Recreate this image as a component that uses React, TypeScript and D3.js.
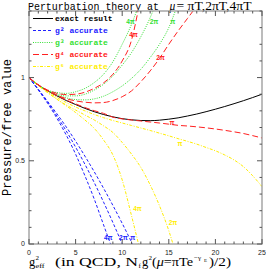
import React from 'react';
import * as d3 from 'd3';

type P = [number, number];

const exact: P[] = [[0,1],[0.5,0.975],[1,0.955],[2,0.92],[3,0.89],[4,0.862],[5,0.838],[6,0.815],[7,0.795],[8,0.778],[9,0.764],[10,0.753],[11,0.746],[12,0.742],[13,0.741],[14,0.744],[15,0.75],[16,0.758],[17,0.769],[18,0.781],[19,0.795],[20,0.81],[21,0.826],[22,0.843],[23,0.861],[24,0.88],[25,0.9]];

const g2_4pi: P[] = [[0,1],[1,0.925],[2,0.845],[3,0.755],[4,0.654],[5,0.54],[6,0.41],[7,0.27],[8,0.115],[8.75,0]];
const g2_2pi: P[] = [[0,1],[1,0.927],[2,0.85],[3,0.768],[4,0.679],[5,0.582],[6,0.479],[7,0.369],[8,0.252],[9,0.129],[10,0]];
const g2_pi: P[] = [[0,1],[1,0.93],[2,0.857],[3,0.782],[4,0.703],[5,0.618],[6,0.528],[7,0.434],[8,0.335],[9,0.232],[10,0.124],[11.1,0]];

const g3_4pi: P[] = [[0,1],[1,0.955],[2,0.925],[3,0.91],[4,0.905],[5,0.915],[6,0.935],[7,0.97],[8,1.02],[9,1.095],[10,1.2],[11,1.32],[11.55,1.4]];
const g3_2pi: P[] = [[0,1],[1,0.955],[2,0.922],[3,0.9],[4,0.89],[5,0.89],[6,0.9],[7,0.925],[8,0.96],[9,1.01],[10,1.075],[11,1.15],[12,1.245],[13,1.36],[13.3,1.4]];
const g3_pi: P[] = [[0,1],[1,0.955],[2,0.921],[3,0.895],[4,0.878],[5,0.868],[6,0.866],[7,0.872],[8,0.888],[9,0.915],[10,0.95],[11,0.995],[12,1.05],[13,1.12],[14,1.2],[15,1.3],[15.7,1.4]];

const g4_4pi: P[] = [[0,1],[1,0.955],[2,0.925],[3,0.905],[4,0.898],[5,0.9],[6,0.912],[7,0.935],[8,0.968],[9,1.02],[10,1.1],[11,1.225],[11.7,1.4]];
const g4_2pi: P[] = [[0,1],[1,0.955],[2,0.921],[3,0.894],[4,0.873],[5,0.86],[6,0.852],[7,0.848],[8,0.85],[9,0.862],[10,0.885],[11,0.92],[12,0.975],[13,1.04],[14,1.115],[15,1.2],[16,1.28],[17,1.355],[17.6,1.4]];
const g4_pi: P[] = [[0,1],[1,0.957],[2,0.922],[3,0.892],[4,0.865],[5,0.842],[6,0.82],[7,0.801],[8,0.785],[9,0.762],[10,0.752],[11,0.745],[12,0.739],[13,0.733],[14,0.727],[15,0.72],[16,0.713],[17,0.709],[18,0.704],[19,0.698],[20,0.691],[21,0.683],[22,0.674],[23,0.664],[24,0.651],[25,0.637]];

const g5_4pi: P[] = [[0,1],[1,0.952],[2,0.91],[3,0.87],[4,0.83],[5,0.79],[6,0.745],[7,0.695],[8,0.625],[9,0.535],[10,0.385],[11,0.17],[11.75,0]];
const g5_2pi: P[] = [[0,1],[1,0.953],[2,0.91],[3,0.87],[4,0.835],[5,0.805],[6,0.775],[7,0.745],[8,0.71],[9,0.67],[10,0.61],[11,0.54],[12,0.46],[13,0.355],[14,0.23],[15,0.08],[15.45,0]];
const g5_pi: P[] = [[0,1],[1,0.954],[2,0.915],[3,0.88],[4,0.85],[5,0.823],[6,0.8],[7,0.778],[8,0.759],[9,0.742],[10,0.727],[11,0.712],[12,0.697],[13,0.682],[14,0.666],[15,0.65],[16,0.633],[17,0.617],[18,0.6],[19,0.58],[20,0.56],[21,0.535],[22,0.505],[23,0.465],[24,0.41],[25,0.345]];

const legendLabels = ['exact result', 'g\u00b2 accurate', 'g\u00b3 accurate', 'g\u2074 accurate', 'g\u2075 accurate'];
const xTicks = [0, 5, 10, 15, 20, 25];
const yTicks = [0, 0.5, 1];
const yTickLabels = ['0', '0.5', '1'];

// curve annotations [x, y, text]
const blueNotes: [number, number, string][] = [[8.5, 0.04, '4\u03c0'], [10.12, 0.04, '2\u03c0'], [11.13, 0.04, '\u03c0']];
const greenNotes: [number, number, string][] = [[10.89, 1.336, '4\u03c0'], [13.41, 1.336, '2\u03c0'], [15.42, 1.336, '\u03c0']];
const redNotes: [number, number, string][] = [[11.21, 1.259, '4\u03c0'], [14.11, 1.118, '2\u03c0'], [15.35, 0.731, '\u03c0']];
const yellowNotes: [number, number, string][] = [[11.64, 0.211, '4\u03c0'], [15.45, 0.127, '2\u03c0'], [16.2, 0.602, '\u03c0']];

const BLUE = '#2020ff';
const GREEN = '#33e033';
const RED = '#ff2020';
const YELLOW = '#ffee00';

export default function App() {
  const W = 266, H = 272;
  const L = 29, R = 262, T = 11, B = 244;
  const x = d3.scaleLinear().domain([0, 25]).range([L, R]);
  const y = d3.scaleLinear().domain([0, 1.4]).range([B, T]);
  const line = d3.line<P>().x(d => x(d[0])).y(d => y(d[1])).curve(d3.curveMonotoneX);

  const series = [
    { data: exact, color: '#000', dash: 'none' },
    { data: g5_4pi, color: YELLOW, dash: '3,1.5,1,1.5' },
    { data: g5_2pi, color: YELLOW, dash: '3,1.5,1,1.5' },
    { data: g5_pi, color: YELLOW, dash: '3,1.5,1,1.5' },
    { data: g2_4pi, color: BLUE, dash: '3,2' },
    { data: g2_2pi, color: BLUE, dash: '3,2' },
    { data: g2_pi, color: BLUE, dash: '3,2' },
    { data: g3_4pi, color: GREEN, dash: '1,1.3' },
    { data: g3_2pi, color: GREEN, dash: '1,1.3' },
    { data: g3_pi, color: GREEN, dash: '1,1.3' },
    { data: g4_4pi, color: RED, dash: '6,3' },
    { data: g4_2pi, color: RED, dash: '6,3' },
    { data: g4_pi, color: RED, dash: '6,3' },
  ];

  const legendStyles = [
    { color: '#000', dash: 'none', text: '#000' },
    { color: BLUE, dash: '3,2', text: BLUE },
    { color: GREEN, dash: '1,1.3', text: GREEN },
    { color: RED, dash: '6,3', text: RED },
    { color: YELLOW, dash: '3,1.5,1,1.5', text: YELLOW },
  ];

  const minorX = d3.range(0, 26, 1);
  const minorY = d3.range(0, 1.41, 0.1);

  const notes = [
    ...blueNotes.map(n => ({ n, c: BLUE })),
    ...greenNotes.map(n => ({ n, c: GREEN })),
    ...redNotes.map(n => ({ n, c: RED })),
    ...yellowNotes.map(n => ({ n, c: YELLOW })),
  ];

  const serif = 'Liberation Serif';
  const xl = 265.5;

  return (
    <svg width={W} height={H} style={{ position: 'absolute', left: 0, top: 0, background: '#fff' }}>
      <defs>
        <clipPath id="plot"><rect x={L} y={T} width={R - L} height={B - T} /></clipPath>
      </defs>
      <rect x={0} y={0} width={W} height={H} fill="#fff" />
      {/* title */}
      <text x={28} y={9.5} fontFamily="Liberation Mono" fontSize={11} textLength={131} lengthAdjust="spacingAndGlyphs">Perturbation theory at</text>
      <text x={169.5} y={9.5} fontFamily="Liberation Serif" fontStyle="italic" fontSize={11.5}>μ</text>
      <text x={176.5} y={9.5} fontFamily="Liberation Serif" fontSize={11.5} textLength={75} lengthAdjust="spacingAndGlyphs">= πT,2πT,4πT</text>

      {/* curves */}
      <g clipPath="url(#plot)" fill="none" strokeWidth={1}>
        {series.map((s, i) => (
          <path key={i} d={line(s.data) || ''} stroke={s.color} strokeDasharray={s.dash} />
        ))}
      </g>

      {/* curve notes */}
      {notes.map(({ n, c }, i) => (
        <text key={i} x={x(n[0])} y={y(n[1])} dy="0.35em" textAnchor="middle" fontFamily="Liberation Sans" fontWeight="bold" fontSize={6.5} fill={c}>{n[2]}</text>
      ))}

      {/* frame */}
      <rect x={L} y={T} width={R - L} height={B - T} fill="none" stroke="#999" strokeWidth={1.3} />

      {/* ticks */}
      <g stroke="#555" strokeWidth={1}>
        {minorX.map(v => {
          const len = v % 5 === 0 ? 5 : 2.5;
          return (
            <g key={'x' + v}>
              <line x1={x(v)} x2={x(v)} y1={B} y2={B - len} />
              <line x1={x(v)} x2={x(v)} y1={T} y2={T + len} />
            </g>
          );
        })}
        {minorY.map((v, i) => {
          const len = i % 5 === 0 ? 5 : 2.5;
          return (
            <g key={'y' + i}>
              <line x1={L} x2={L + len} y1={y(v)} y2={y(v)} />
              <line x1={R} x2={R - len} y1={y(v)} y2={y(v)} />
            </g>
          );
        })}
      </g>

      {/* tick labels */}
      {xTicks.map(v => (
        <text key={'xl' + v} x={x(v)} y={254.5} textAnchor="middle" fontFamily="Liberation Sans" fontSize={7} fill="#222">{v}</text>
      ))}
      {yTicks.map((v, i) => (
        <text key={'yl' + v} x={25} y={y(v)} dy="0.35em" textAnchor="end" fontFamily="Liberation Sans" fontSize={7} fill="#222">{yTickLabels[i]}</text>
      ))}

      {/* axis titles */}
      <text transform={`translate(10.5,${(T + B) / 2}) rotate(-90)`} textAnchor="middle" fontFamily="Liberation Mono" fontSize={12}>Pressure/free value</text>
      <g fontFamily={serif} fill="#000">
        <text x={29} y={xl} fontSize={12.5}>g</text>
        <text x={35.5} y={xl - 5.5} fontSize={7}>2</text>
        <text x={35.5} y={xl + 2.5} fontSize={7} textLength={9} lengthAdjust="spacingAndGlyphs">eff</text>
        <text x={55} y={xl} fontSize={12.5} textLength={83} lengthAdjust="spacingAndGlyphs">(in QCD, N</text>
        <text x={138.5} y={xl + 2.5} fontSize={7}>f</text>
        <text x={142} y={xl} fontSize={12.5}>g</text>
        <text x={148.5} y={xl - 5.5} fontSize={7}>2</text>
        <text x={152} y={xl} fontSize={12.5} textLength={41} lengthAdjust="spacingAndGlyphs">(<tspan fontStyle="italic">μ</tspan>=πTe</text>
        <text x={194} y={xl - 5.5} fontSize={7}>−γ</text>
        <text x={204} y={xl - 3.5} fontSize={5}>E</text>
        <text x={209} y={xl} fontSize={12.5} textLength={22} lengthAdjust="spacingAndGlyphs">)/2)</text>
      </g>

      {/* legend */}
      {legendLabels.map((lab, i) => {
        const ly = 18.5 + i * 12;
        const st = legendStyles[i];
        return (
          <g key={'lg' + i}>
            <line x1={33} x2={53} y1={ly} y2={ly} stroke={st.color} strokeWidth={1} strokeDasharray={st.dash} />
            <text x={55} y={ly} dy="0.35em" fontFamily="Liberation Mono" fontWeight="bold" fontSize={8} fill={st.text}>{lab}</text>
          </g>
        );
      })}
    </svg>
  );
}
